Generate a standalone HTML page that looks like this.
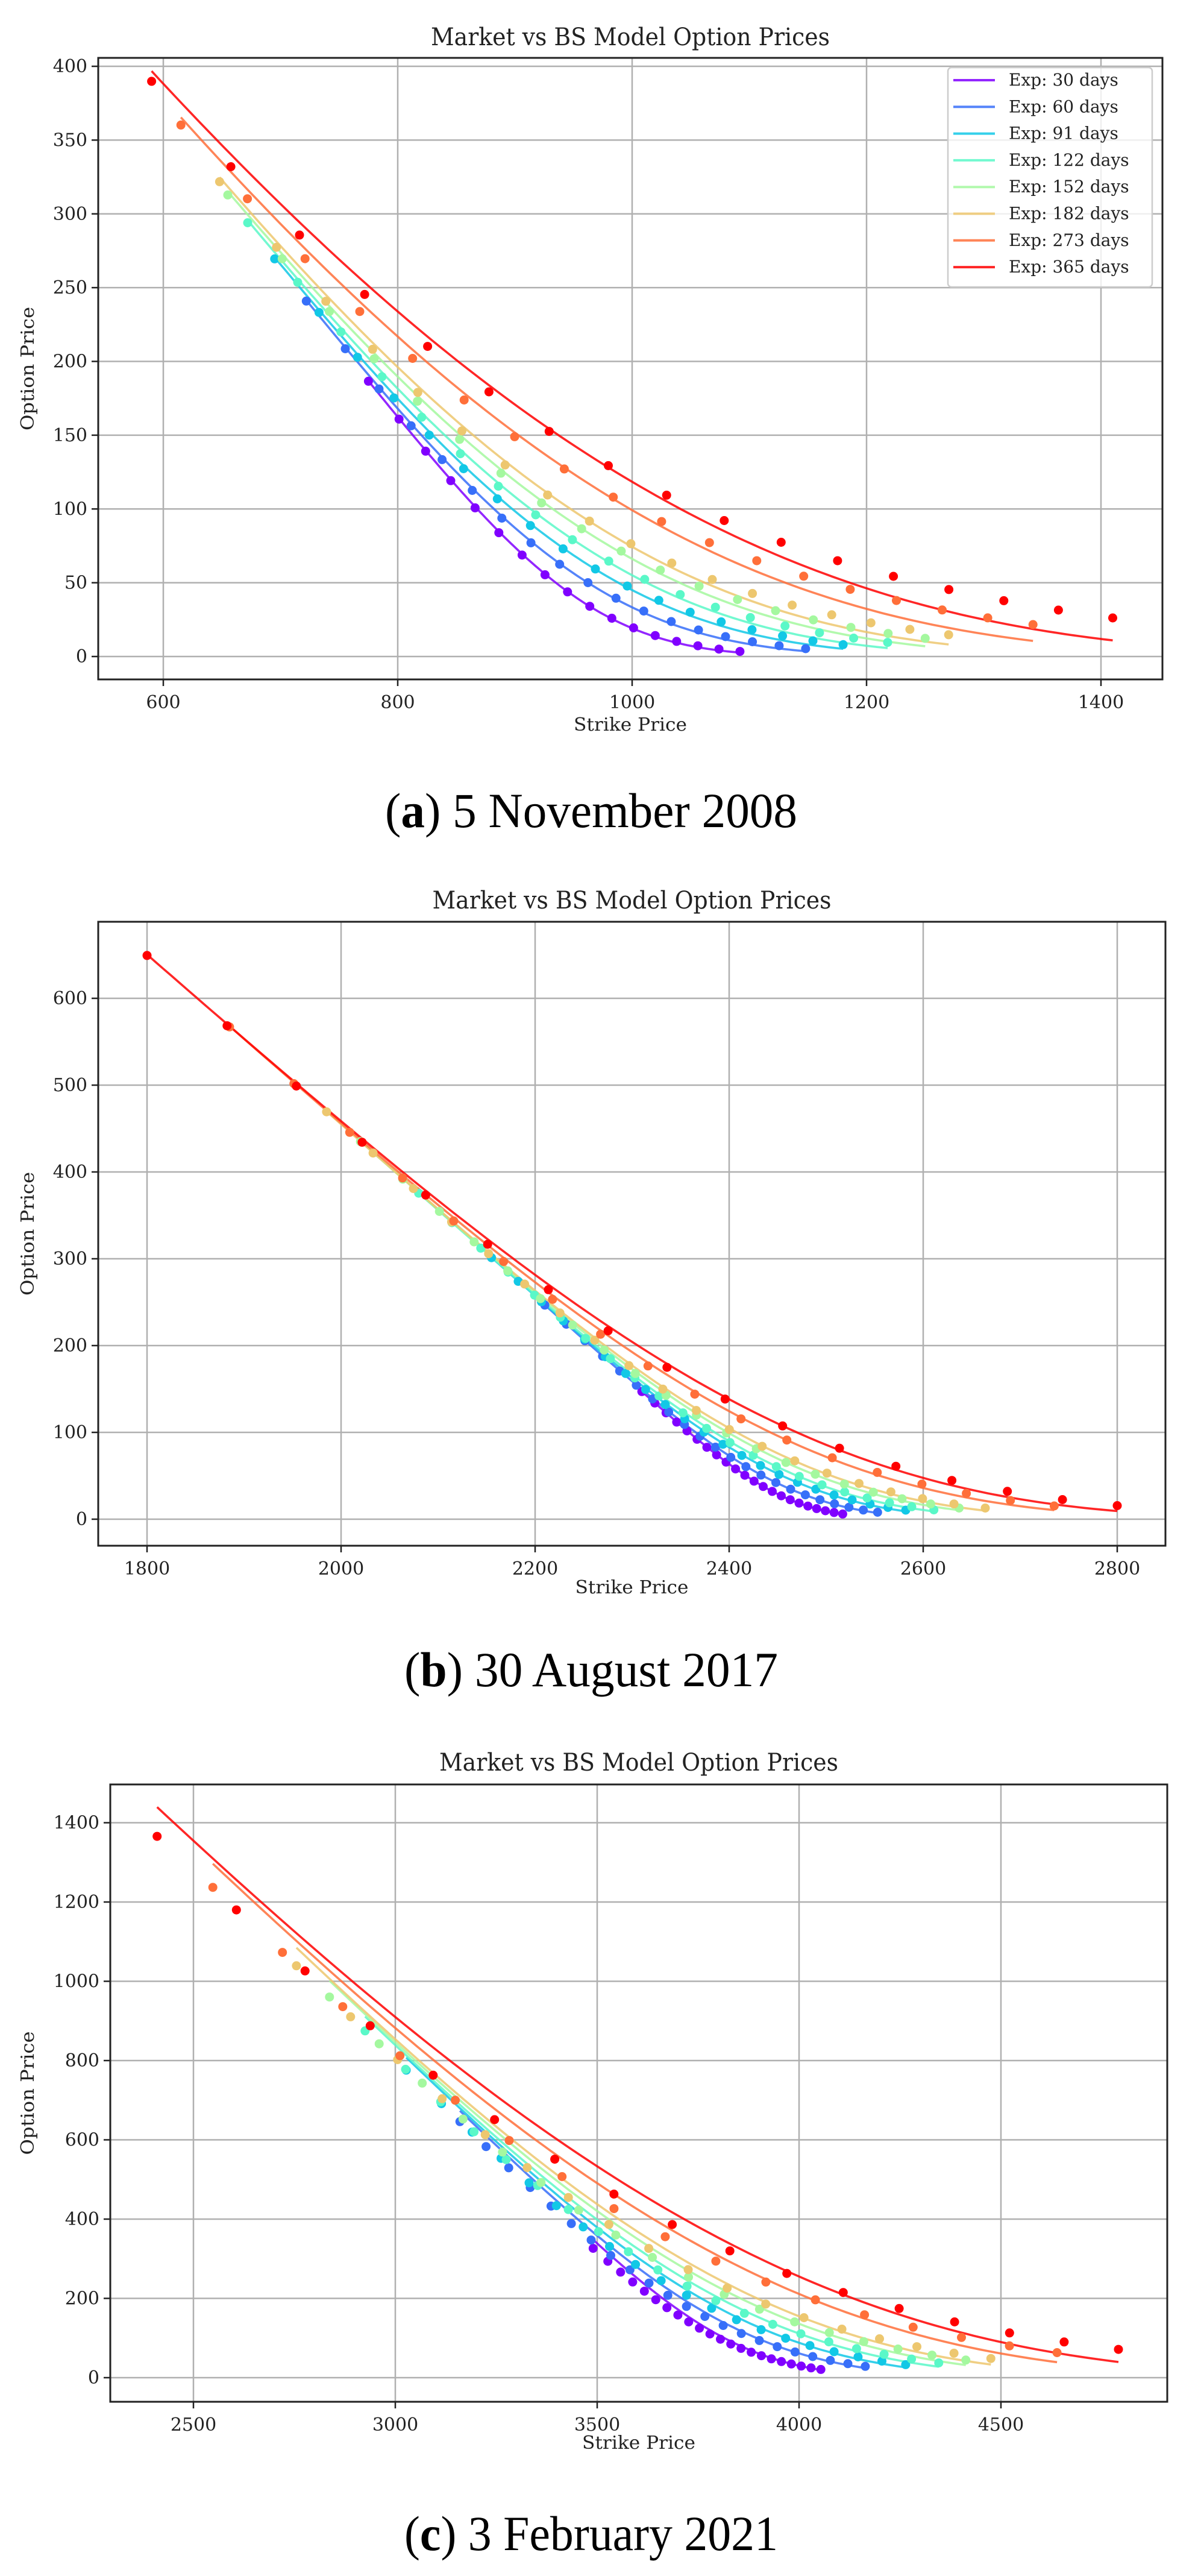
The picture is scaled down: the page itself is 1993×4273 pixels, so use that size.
<!DOCTYPE html>
<html><head><meta charset="utf-8">
<style>
html,body{margin:0;padding:0;background:#fff;}
svg{display:block;}
text{font-family:"DejaVu Serif","Liberation Serif",serif;fill:#222;}
.cap{font-family:"Liberation Serif",serif;fill:#000;}
</style></head>
<body>
<svg id="s" width="1993" height="4273" xmlns="http://www.w3.org/2000/svg"></svg>
<script>
const svg=document.getElementById('s');
const NS='http://www.w3.org/2000/svg';
function el(t,a,txt){const e=document.createElementNS(NS,t);for(const k in a)e.setAttribute(k,a[k]);if(txt!==undefined)e.textContent=txt;svg.appendChild(e);return e;}
function ncdf(x){const t=1/(1+0.2316419*Math.abs(x));const d=0.3989423*Math.exp(-x*x/2);let p=d*t*(0.3193815+t*(-0.3565638+t*(1.781478+t*(-1.821256+t*1.330274))));return x>0?1-p:p;}
function bs(S,K,T,r,q,s){const sd=s*Math.sqrt(T);const d1=(Math.log(S/K)+(r-q+s*s/2)*T)/sd;const d2=d1-sd;return S*Math.exp(-q*T)*ncdf(d1)-K*Math.exp(-r*T)*ncdf(d2);}
const cols=['#8000ff','#376ff9','#12c8e6','#5af8c8','#a4f89f','#edc76f','#ff6f39','#ff0000'];
const days=[30,60,91,122,152,182,273,365];
const charts=[
 {L:163,R:1929,T:96,B:1127,x0:600,px0:271,xs:1.945,y0:1089,ys:2.4475,
  xt:[600,800,1000,1200,1400],yt:[0,50,100,150,200,250,300,350,400],
  S:960,r:0.02,q:0,skew:0.5,sig:[.32,.32,.32,.32,.33,.33,.34,.34],dS:0,df:1.0,
  rng:[[775,1092],[722,1148],[695,1180],[672,1218],[655,1250],[648,1270],[615,1342],[590,1410]],
  nd:[17,18,18,18,18,18,18,17],
  titleY:75,xlabY:1212,cap:['a',') 5 November 2008'],capY:1372,capL:684,legend:true},
 {L:163,R:1934,T:1529,B:2564,x0:1800,px0:244,xs:1.61,y0:2520,ys:1.44,
  xt:[1800,2000,2200,2400,2600,2800],yt:[0,100,200,300,400,500,600],
  S:2457,r:0.012,q:0.012,skew:1.0,sig:[.09,.095,.1,.1,.105,.105,.11,.11],dS:0,df:1.0,
  rng:[[2310,2517],[2210,2553],[2155,2582],[2080,2611],[2020,2637],[1985,2664],[1885,2735],[1800,2800]],
  nd:[22,22,22,22,20,20,18,17],
  titleY:1507,xlabY:2643,cap:['b',') 30 August 2017'],capY:2797,capL:620},
 {L:183,R:1937,T:2960,B:3984,x0:2500,px0:321,xs:0.67,y0:3944,ys:0.6575,
  xt:[2500,3000,3500,4000,4500],yt:[0,200,400,600,800,1000,1200,1400],
  S:3830,r:0.001,q:0.0,skew:0.73,sig:[.21,.21,.21,.21,.215,.215,.22,.22],dS:-65,df:1.05,
  rng:[[3490,4054],[3160,4164],[3027,4264],[2925,4346],[2837,4413],[2755,4475],[2548,4639],[2410,4791]],
  nd:[22,22,20,20,18,18,17,17],
  titleY:2937,xlabY:4062,cap:['c',') 3 February 2021'],capY:4230,capL:620}
];
for(const c of charts){
  const X=k=>c.px0+(k-c.x0)*c.xs, Y=v=>c.y0-v*c.ys;
  for(const t of c.xt){el('line',{x1:X(t),x2:X(t),y1:c.T,y2:c.B,stroke:'#b0b0b0','stroke-width':2.5});}
  for(const t of c.yt){el('line',{x1:c.L,x2:c.R,y1:Y(t),y2:Y(t),stroke:'#b0b0b0','stroke-width':2.5});}
  for(let i=0;i<8;i++){
    const T=days[i]/365,[a,b]=c.rng[i],s0=c.sig[i];
    let d='';
    for(let j=0;j<=120;j++){const K=a+(b-a)*j/120;const sg=s0*(1-c.skew*(K/c.S-1));const p=bs(c.S,K,T,c.r,c.q,sg);d+=(j?'L':'M')+X(K).toFixed(1)+','+Y(p).toFixed(1);}
    el('path',{d:d,fill:'none',stroke:cols[i],'stroke-width':3.6,'stroke-opacity':0.85});
  }
  for(let i=0;i<8;i++){
    const T=days[i]/365,[a,b]=c.rng[i],s0=c.sig[i],n=c.nd[i];
    const dS=c.dS*(0.3+0.7*T);
    for(let j=0;j<n;j++){let f=j/(n-1);f=Math.pow(f,0.9);const K=a+(b-a)*f;const p=Math.max(0.5,bs(c.S+dS,K,T,c.r,c.q,c.df*s0*(1-0.1*c.skew*(K/c.S-1))));
      el('circle',{cx:X(K).toFixed(1),cy:Y(p).toFixed(1),r:7.5,fill:cols[i]});}
  }
  el('rect',{x:c.L,y:c.T,width:c.R-c.L,height:c.B-c.T,fill:'none',stroke:'#222','stroke-width':3});
  for(const t of c.xt){el('line',{x1:X(t),x2:X(t),y1:c.B,y2:c.B+11,stroke:'#222','stroke-width':2.5});
    el('text',{x:X(t),y:c.B+48,'text-anchor':'middle','font-size':30},String(t));}
  for(const t of c.yt){el('line',{x1:c.L-11,x2:c.L,y1:Y(t),y2:Y(t),stroke:'#222','stroke-width':2.5});
    el('text',{x:c.L-18,y:Y(t)+10,'text-anchor':'end','font-size':30},String(t));}
  const cx=(c.L+c.R)/2;
  el('text',{x:cx,y:c.titleY,'text-anchor':'middle','font-size':40,textLength:662,lengthAdjust:'spacingAndGlyphs'},'Market vs BS Model Option Prices');
  el('text',{x:cx,y:c.xlabY,'text-anchor':'middle','font-size':30,textLength:188,lengthAdjust:'spacingAndGlyphs'},'Strike Price');
  const cy=(c.T+c.B)/2;
  el('text',{x:56,y:cy,'text-anchor':'middle','font-size':30,transform:'rotate(-90 56 '+cy+')',textLength:205,lengthAdjust:'spacingAndGlyphs'},'Option Price');
  const ct=el('text',{x:981,y:c.capY,'text-anchor':'middle','font-size':82,class:'cap',textLength:c.capL,lengthAdjust:'spacingAndGlyphs'});
  const t1=document.createElementNS(NS,'tspan');t1.textContent='(';ct.appendChild(t1);
  const t2=document.createElementNS(NS,'tspan');t2.setAttribute('font-weight','bold');t2.textContent=c.cap[0];ct.appendChild(t2);
  const t3=document.createElementNS(NS,'tspan');t3.textContent=c.cap[1];ct.appendChild(t3);
  if(c.legend){
    el('rect',{x:1573,y:112,width:339,height:364,rx:6,fill:'#fff','fill-opacity':0.8,stroke:'#cccccc','stroke-width':2.5});
    for(let i=0;i<8;i++){const y=133+i*44.3;
      el('line',{x1:1582,x2:1651,y1:y,y2:y,stroke:cols[i],'stroke-width':4,'stroke-opacity':0.85});
      el('text',{x:1674,y:y+9,'font-size':28},'Exp: '+days[i]+' days');}
  }
}
</script>
</body></html>
